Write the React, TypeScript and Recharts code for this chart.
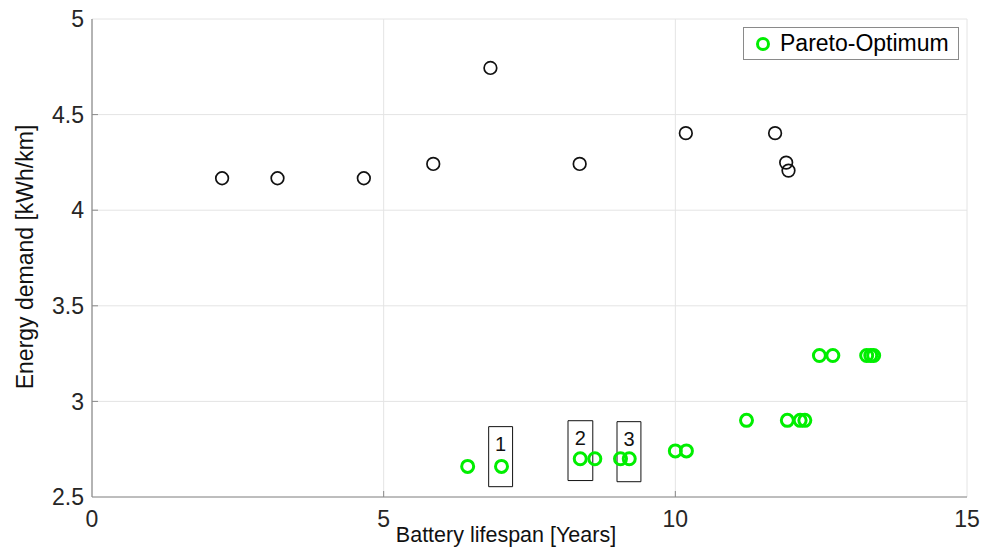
import React from 'react';
import {
  ScatterChart,
  Scatter,
  XAxis,
  YAxis,
  CartesianGrid,
  ReferenceArea,
  Legend,
} from 'recharts';

// ---- data ----
const otherLifespan = [2.23, 3.18, 4.66, 5.85, 6.83, 8.36, 10.18, 11.71, 11.9, 11.94];
const otherDemand = [4.167, 4.167, 4.167, 4.242, 4.744, 4.242, 4.403, 4.403, 4.249, 4.207];

const paretoLifespan = [6.44, 7.02, 8.37, 8.62, 9.06, 9.21, 10.0, 10.19, 11.22, 11.92, 12.14, 12.22, 12.47, 12.7, 13.28, 13.35, 13.4];
const paretoDemand = [2.66, 2.66, 2.7, 2.7, 2.7, 2.7, 2.741, 2.741, 2.901, 2.901, 2.901, 2.901, 3.24, 3.24, 3.24, 3.24, 3.24];

const boxLabels = ['1', '2', '3'];
const boxXFrom = [6.8, 8.16, 9.0];
const boxXTo = [7.21, 8.585, 9.41];
const boxYFrom = [2.554, 2.586, 2.58];
const boxYTo = [2.868, 2.899, 2.894];

const xTicks = [0, 5, 10, 15];
const yTicks = [2.5, 3, 3.5, 4, 4.5, 5];
const xTickLabels = ['0', '5', '10', '15'];
const yTickLabels = ['2.5', '3', '3.5', '4', '4.5', '5'];

const otherPoints = otherLifespan.map((x, i) => ({ x, y: otherDemand[i] }));
const paretoPoints = paretoLifespan.map((x, i) => ({ x, y: paretoDemand[i] }));

const FONT = '"Liberation Sans", Arial, Helvetica, sans-serif';
const AXIS = '#8a8a8a';
const TXT = '#262626';

const XTick = (props: any) => {
  const { x, y, payload } = props;
  const axisY = y - 14;
  const showTick = payload.value !== 0 && payload.value !== 15;
  return (
    <g>
      {showTick && <line x1={x} x2={x} y1={axisY} y2={axisY - 6} stroke={AXIS} strokeWidth={1} />}
      <text x={x} y={y} dy="0.71em" textAnchor="middle" fontFamily={FONT} fontSize={23} fill={TXT}>
        {xTickLabels[xTicks.indexOf(payload.value)] ?? payload.value}
      </text>
    </g>
  );
};

const YTick = (props: any) => {
  const { x, y, payload } = props;
  const axisX = x + 8;
  const showTick = payload.value !== 2.5 && payload.value !== 5;
  return (
    <g>
      {showTick && <line x1={axisX} x2={axisX + 6} y1={y} y2={y} stroke={AXIS} strokeWidth={1} />}
      <text x={x} y={y} dy="0.355em" textAnchor="end" fontFamily={FONT} fontSize={23} fill={TXT}>
        {yTickLabels[yTicks.indexOf(payload.value)] ?? payload.value}
      </text>
    </g>
  );
};

const TopTick = (props: any) => {
  const { x, y, payload } = props;
  if (payload.value === 0 || payload.value === 15) return <g />;
  return <line x1={x} x2={x} y1={y} y2={y + 6} stroke={AXIS} strokeWidth={1} />;
};

const RightTick = (props: any) => {
  const { x, y, payload } = props;
  if (payload.value === 2.5 || payload.value === 5) return <g />;
  return <line x1={x} x2={x - 6} y1={y} y2={y} stroke={AXIS} strokeWidth={1} />;
};

const BlackCircle = (p: any) => (
  <circle cx={p.cx} cy={p.cy} r={6.3} fill="none" stroke="#111" strokeWidth={1.7} />
);
const GreenCircle = (p: any) => (
  <circle cx={p.cx} cy={p.cy} r={6} fill="none" stroke="#00ee00" strokeWidth={3} />
);

const LegendBox = (props: any) => {
  const items = (props.payload || []).filter((it: any) => it.value === 'Pareto-Optimum');
  return (
    <div
      style={{
        border: '1px solid #8a8a8a',
        background: '#fff',
        height: 33,
        boxSizing: 'border-box',
        display: 'flex',
        alignItems: 'center',
        fontFamily: FONT,
        fontSize: 23,
        color: '#000',
        whiteSpace: 'nowrap',
      }}
    >
      {items.map((it: any) => (
        <React.Fragment key={it.value}>
          <svg width={36} height={20} style={{ display: 'block' }}>
            <circle cx={19} cy={10} r={5.5} fill="none" stroke="#00ee00" strokeWidth={3} />
          </svg>
          <span>{it.value}</span>
        </React.Fragment>
      ))}
    </div>
  );
};

const XLabel = () => (
  <text x={506} y={542} textAnchor="middle" fontFamily={FONT} fontSize={21.5} fill="#111">
    Battery lifespan [Years]
  </text>
);

const YLabel = () => (
  <text
    x={33}
    y={257}
    transform="rotate(-90, 33, 257)"
    textAnchor="middle"
    fontFamily={FONT}
    fontSize={23}
    fill="#111"
  >
    Energy demand [kWh/km]
  </text>
);

export default function App() {
  return (
    <div style={{ position: 'absolute', left: 0, top: 0, width: 982, height: 553, background: '#fff' }}>
      <ScatterChart width={982} height={553} margin={{ top: 19, right: 15, bottom: 11, left: 0 }}>
        <CartesianGrid stroke="#e4e4e4" strokeWidth={1} />
        <XAxis
          type="number"
          dataKey="x"
          domain={[0, 15]}
          ticks={xTicks}
          height={45}
          axisLine={{ stroke: AXIS, strokeWidth: 1.2 }}
          tickLine={false}
          tickSize={6}
          tickMargin={8}
          tick={<XTick />}
          interval={0}
          label={<XLabel />}
        />
        <XAxis
          xAxisId="top"
          orientation="top"
          type="number"
          domain={[0, 15]}
          ticks={xTicks}
          height={0}
          axisLine={{ stroke: AXIS, strokeWidth: 1.2 }}
          tickLine={false}
          tickSize={0}
          tickMargin={0}
          tick={<TopTick />}
          interval={0}
        />
        <YAxis
          type="number"
          dataKey="y"
          domain={[2.5, 5]}
          ticks={yTicks}
          width={92}
          axisLine={{ stroke: AXIS, strokeWidth: 1.2 }}
          tickLine={false}
          tickSize={6}
          tickMargin={2}
          tick={<YTick />}
          interval={0}
          label={<YLabel />}
        />
        <YAxis
          yAxisId="right"
          orientation="right"
          type="number"
          domain={[2.5, 5]}
          ticks={yTicks}
          width={0}
          axisLine={{ stroke: AXIS, strokeWidth: 1.2 }}
          tickLine={false}
          tickSize={0}
          tickMargin={0}
          tick={<RightTick />}
          interval={0}
        />
        {boxLabels.map((lab, i) => (
          <ReferenceArea
            key={lab}
            x1={boxXFrom[i]}
            x2={boxXTo[i]}
            y1={boxYFrom[i]}
            y2={boxYTo[i]}
            fill="none"
            fillOpacity={0}
            stroke="#111"
            strokeWidth={1}
            ifOverflow="visible"
            label={{ value: lab, position: 'insideTop', offset: 10, fontSize: 20, fill: '#111', fontFamily: FONT }}
          />
        ))}
        <Scatter name="Others" data={otherPoints} shape={BlackCircle} isAnimationActive={false} legendType="none" />
        <Scatter name="Pareto-Optimum" data={paretoPoints} shape={GreenCircle} isAnimationActive={false} />
        <Legend
          layout="horizontal"
          verticalAlign="middle"
          align="center"
          content={<LegendBox />}
          wrapperStyle={{ position: 'absolute', top: 27, left: 743, width: 216, height: 35 }}
        />
      </ScatterChart>
    </div>
  );
}
